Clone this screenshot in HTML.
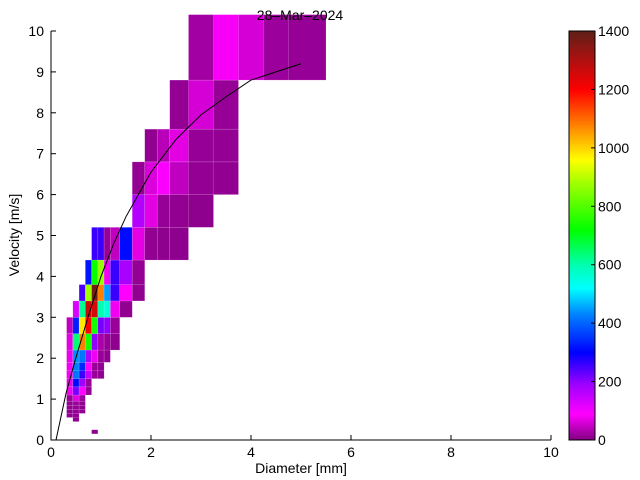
<!DOCTYPE html>
<html><head><meta charset="utf-8"><title>Velocity-Diameter</title>
<style>html,body{margin:0;padding:0;background:#fff}svg{display:block;font-family:"Liberation Sans",sans-serif}</style>
</head><body>
<svg id="chart" width="640" height="480" viewBox="0 0 640 480" xmlns="http://www.w3.org/2000/svg">
<g id="cells"></g>
<g id="fit"></g>
<g id="axes"></g>
<g id="cbar"></g>
<text x="300" y="20" text-anchor="middle" font-size="14">28–Mar–2024</text>
<text x="301" y="473" text-anchor="middle" font-size="14">Diameter [mm]</text>
<text x="19" y="235" text-anchor="middle" font-size="14" transform="rotate(-90 19 235)">Velocity [m/s]</text>
</svg>
<script>
// bin edges (Parsivel class centers used as pcolor edges)
const diamEdges = [0.062,0.187,0.312,0.437,0.562,0.687,0.812,0.937,1.062,1.187,1.375,1.625,1.875,2.125,2.375,2.75,3.25,3.75,4.25,4.75,5.5,6.5];
const velEdges = [0.05,0.15,0.25,0.35,0.45,0.55,0.65,0.75,0.85,0.95,1.1,1.3,1.5,1.7,1.9,2.2,2.6,3.0,3.4,3.8,4.4,5.2,6.0,6.8,7.6,8.8,10.4];
// each row: velocity bin index, first diameter bin index, counts
const rowVel   = [1,4,5,6,7,8,9,10,11,12,13,14,15,16,17,18,19,20,21,22,23,24,25];
const rowStart = [6,3,2,2,2,2,2,2,2,2,2,2,2,2,3,4,5,6,11,11,12,14,15];
const rowCounts = [
 [10],
 [12],
 [14,14],
 [12,14,12],
 [14,16,12],
 [14,18,14],
 [18,70,20],
 [80,220,90,14],
 [75,310,190,18],
 [80,420,260,150,18,12],
 [80,430,340,90,18,12],
 [75,440,420,180,80,18,12],
 [70,640,1080,740,200,30,16,10],
 [45,330,980,1200,740,220,200,18],
 [130,620,1270,1250,600,560,80,12],
 [250,880,1380,1080,450,260,90,12],
 [320,730,870,80,260,180,14],
 [260,260,18,45,310,70,12,10,10],
 [170,70,16,12,10],
 [14,65,95,45,14,12],
 [12,40,70,16,14],
 [14,60,16],
 [25,85,60,20,16]
];
// fit curve
const fitDiam = [0.1,0.3,0.5,0.75,1.0,1.25,1.5,2.0,2.5,3.0,3.5,4.0,4.5,5.0];
const fitVel  = [0.0,1.14,2.02,3.04,4.0,4.79,5.46,6.55,7.35,7.95,8.39,8.8,9.0,9.2];
const xTicks = [0,2,4,6,8,10];
const yTicks = [0,1,2,3,4,5,6,7,8,9,10];
const cbTicks = [0,200,400,600,800,1000,1200,1400];

const X0=51,X1=551,Y0=440,Y1=31, CMAX=1400;
const sx = d => X0 + (d/10)*(X1-X0);
const sy = v => Y0 - (v/10)*(Y0-Y1);
const NS='http://www.w3.org/2000/svg';
function mk(tag, parent){const e=document.createElementNS(NS,tag);parent.appendChild(e);return e;}
const stops=[[0,[128,0,128]],[90,[255,0,255]],[190,[160,0,255]],[300,[0,0,255]],[430,[0,128,255]],[520,[0,255,255]],[600,[0,255,176]],[720,[0,255,0]],[880,[160,255,0]],[960,[255,255,0]],[1050,[255,160,0]],[1200,[255,0,0]],[1300,[176,16,16]],[1400,[96,32,24]]];
function cmap(v){v=Math.max(0,Math.min(CMAX,v));for(let i=1;i<stops.length;i++){if(v<=stops[i][0]){const a=stops[i-1],b=stops[i],t=(v-a[0])/(b[0]-a[0]);return 'rgb('+a[1].map((c,k)=>Math.round(c+(b[1][k]-c)*t)).join(',')+')';}}return 'rgb(96,32,24)';}

const cells=document.getElementById('cells');
rowVel.forEach((vi,r)=>{
  rowCounts[r].forEach((cnt,k)=>{
    const di=rowStart[r]+k;
    const x=sx(diamEdges[di]), x2=sx(diamEdges[di+1]);
    const y=sy(velEdges[vi+1]), y2=sy(velEdges[vi]);
    const rc=mk('rect',cells);
    
    
    rc.setAttribute('x',x);rc.setAttribute('y',y);rc.setAttribute('width',x2-x);rc.setAttribute('height',y2-y);
    rc.setAttribute('fill',cmap(cnt));rc.setAttribute('stroke','rgba(255,255,255,0.2)');rc.setAttribute('stroke-width','0.6');
  });
});
const fit=document.getElementById('fit');
const pl=mk('polyline',fit);


pl.setAttribute('points',fitDiam.map((d,i)=>sx(d)+','+sy(fitVel[i])).join(' '));
pl.setAttribute('fill','none');pl.setAttribute('stroke','#000');pl.setAttribute('stroke-width','1');

const ax=document.getElementById('axes');
const la=mk('path',ax);


la.setAttribute('d',`M${X0},${Y1}V${Y0}H${X1}`);la.setAttribute('stroke','#000');la.setAttribute('fill','none');
xTicks.forEach(t=>{
  const tk=mk('line',ax);
  
  
  tk.setAttribute('x1',sx(t));tk.setAttribute('x2',sx(t));tk.setAttribute('y1',Y0);tk.setAttribute('y2',Y0-5);tk.setAttribute('stroke','#000');
  const tl=mk('text',ax);
  
  
  tl.setAttribute('x',sx(t));tl.setAttribute('y',Y0+17);tl.setAttribute('text-anchor','middle');tl.setAttribute('font-size','14');tl.textContent=t;
});
yTicks.forEach(t=>{
  const tk=mk('line',ax);
  
  
  tk.setAttribute('x1',X0);tk.setAttribute('x2',X0+5);tk.setAttribute('y1',sy(t));tk.setAttribute('y2',sy(t));tk.setAttribute('stroke','#000');
  const tl=mk('text',ax);
  
  
  tl.setAttribute('x',X0-7);tl.setAttribute('y',sy(t)+5);tl.setAttribute('text-anchor','end');tl.setAttribute('font-size','14');tl.textContent=t;
});

const cb=document.getElementById('cbar');
const CX0=569,CX1=595;
for(let i=0;i<280;i++){
  const v0=i*CMAX/280, v1=(i+1)*CMAX/280;
  const r=mk('rect',cb);
  
  
  const ya=Y0-(v1/CMAX)*(Y0-Y1), yb=Y0-(v0/CMAX)*(Y0-Y1);
  r.setAttribute('x',CX0);r.setAttribute('y',ya);r.setAttribute('width',CX1-CX0);r.setAttribute('height',yb-ya+0.5);r.setAttribute('fill',cmap((v0+v1)/2));
}
const cbb=mk('rect',cb);


cbb.setAttribute('x',CX0);cbb.setAttribute('y',Y1);cbb.setAttribute('width',CX1-CX0);cbb.setAttribute('height',Y0-Y1);cbb.setAttribute('fill','none');cbb.setAttribute('stroke','#000');
cbTicks.forEach(t=>{
  const y=Y0-(t/CMAX)*(Y0-Y1);
  const tk=mk('line',cb);
  
  
  tk.setAttribute('x1',CX1-4);tk.setAttribute('x2',CX1);tk.setAttribute('y1',y);tk.setAttribute('y2',y);tk.setAttribute('stroke','#000');
  const tl=mk('text',cb);
  
  
  tl.setAttribute('x',CX1+3);tl.setAttribute('y',y+5);tl.setAttribute('font-size','14');tl.textContent=t;
});
</script>
</body></html>
